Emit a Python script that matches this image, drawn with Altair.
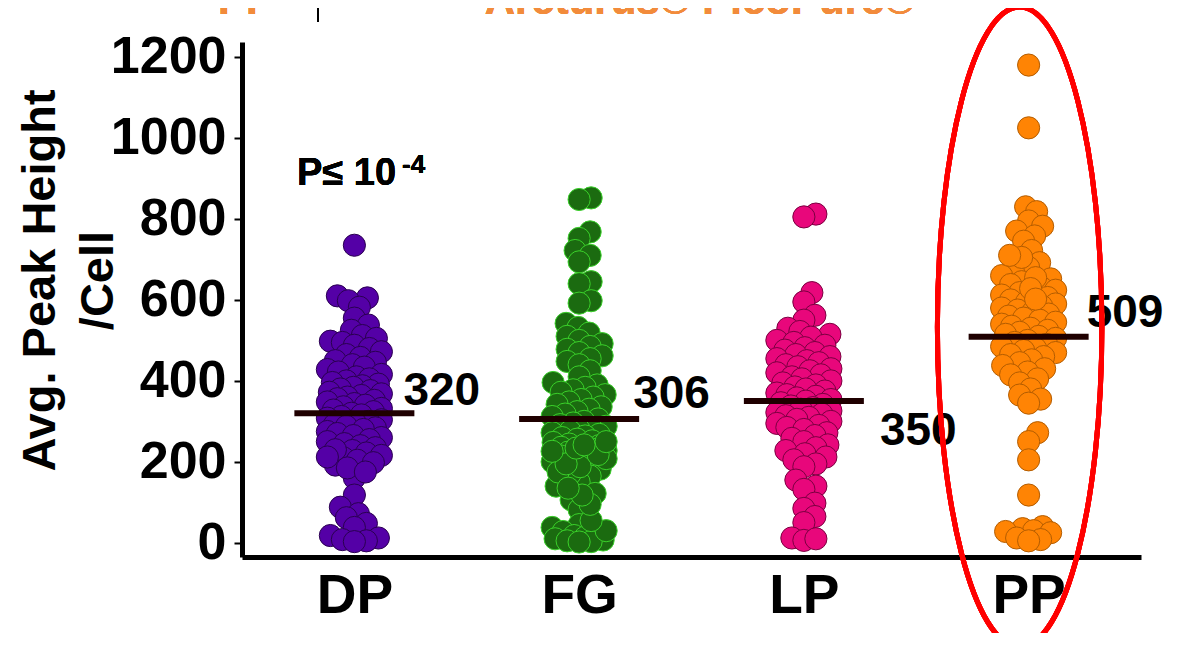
import math
import altair as alt
import pandas as pd

# ---------------- data ----------------
groups = ["DP", "FG", "LP", "PP"]

dp_values = [735, 610, 605, 598, 582, 555, 538, 525, 512, 505,
             498, 495, 488, 480, 472, 465, 458, 450, 446, 440,
             434, 428, 422, 416, 410, 405, 400, 396, 392, 388,
             384, 380, 376, 372, 368, 364, 360, 356, 352, 348,
             344, 340, 336, 332, 328, 324, 320, 316, 312, 308,
             304, 300, 296, 292, 288, 284, 280, 275, 270, 265,
             260, 255, 250, 245, 240, 235, 228, 222, 216, 210,
             204, 198, 192, 160, 118, 88, 72, 62, 48, 38,
             18, 12, 8, 5, 3, 230, 212, 185, 175]

fg_values = [852, 848, 768, 752, 722, 710, 694, 645, 640, 598, 592,
             542, 532, 518, 510, 500, 492, 485, 478, 470,
             462, 455, 448, 440, 425, 410, 396,
             390, 384, 378, 372, 366, 360, 354, 348, 342, 336,
             330, 324, 318, 312, 306, 300,
             296, 292, 288, 284, 280, 276, 272, 268, 264, 260,
             256, 252, 248, 244, 240, 236, 232, 228, 224, 220,
             215, 210, 205, 200, 182, 165, 150, 140, 122, 106, 82,
             45, 38, 28, 22, 18, 14, 10, 7, 5, 3, 2,
             170, 175, 188, 195, 208, 218, 226, 234, 242, 250,
             30, 55, 95, 118, 135]

lp_values = [812, 805, 618, 595, 562, 550,
             530, 522, 515, 508, 500, 495, 488, 482, 476, 470,
             465, 460, 455, 450, 445, 440, 435, 430, 425, 420,
             415, 410, 405, 400, 395, 390, 385, 380, 375, 370,
             366, 362, 358, 354, 350, 346, 342, 338, 334, 330,
             326, 322, 318, 314, 310, 305, 300, 295, 290, 285,
             280, 272, 265, 258, 250, 242, 235, 228, 220, 212,
             205, 195, 188, 155, 140, 132, 98, 85, 65, 50,
             12, 6, 10]

pp_values = [1180, 1025, 830, 818, 795, 782, 770, 758, 745, 722,
             692, 680, 668, 660, 652, 645, 638, 630, 624, 618,
             612, 606, 600, 595, 590, 585, 580, 575, 570, 565,
             560, 555, 550, 545, 540, 535, 530, 525, 520, 515,
             510, 505, 500, 495, 490, 485, 480, 475, 470, 465,
             460, 452, 445, 438, 430, 422, 415, 405, 395, 380,
             365, 355, 345, 272, 250, 205, 118,
             40, 35, 30, 28, 25, 12, 8, 5,
             705, 710, 655, 628, 602]

mean_values = [320, 306, 350, 509]
y_ticks = [0, 200, 400, 600, 800, 1000, 1200]

fill_colors = ["#5400a6", "#1b6b10", "#e8077b", "#ff8404"]
stroke_colors = ["#2a0050", "#3ad12a", "#7a0040", "#b35c00"]

# ---------------- layout helpers ----------------
W, H = 899, 515
Y_MIN, Y_MAX = -35, 1237
PX_Y = H / (Y_MAX - Y_MIN)
PX_X = W / 4.0
MIN_SEP = 12.0
MAX_OFF = 27


def swarm(vals):
    ys = [v * PX_Y for v in vals]
    placed = []
    offs = [0.0] * len(vals)
    order = sorted(range(len(vals)), key=lambda i: ys[i])
    cands = [0] + [s * k for k in range(1, MAX_OFF + 1) for s in (1, -1)]
    for i in order:
        best, bestd = 0, -1.0
        for c in cands:
            dmin = min((math.hypot(c - px, ys[i] - py) for px, py in placed), default=1e9)
            if dmin >= MIN_SEP:
                best = c
                break
            if dmin > bestd:
                bestd, best = dmin, c
        offs[i] = best
        placed.append((best, ys[i]))
    return offs


all_values = [dp_values, fg_values, lp_values, pp_values]
rows = []
for gi, (g, vals) in enumerate(zip(groups, all_values)):
    offs = swarm(vals)
    for v, o in zip(vals, offs):
        rows.append({"grp": g, "value": v, "x": gi + 0.5 + o / PX_X})
points_df = pd.DataFrame(rows)

HALF = 60 / PX_X
means_df = pd.DataFrame({
    "grp": groups,
    "value": mean_values,
    "x": [i + 0.5 - HALF for i in range(4)],
    "x2": [i + 0.5 + HALF for i in range(4)],
    "xc": [i + 0.5 for i in range(4)],
})

FONT = "Liberation Sans"

x_axis = alt.Axis(values=[0.5, 1.5, 2.5, 3.5],
                  labelExpr="['DP','FG','LP','PP'][floor(datum.value)]",
                  title="", grid=False, ticks=False, tickSize=0,
                  labelFontSize=55, labelFontWeight="bold", labelColor="black",
                  labelFont=FONT, labelPadding=12,
                  domainWidth=5, domainColor="black")
y_axis = alt.Axis(values=y_ticks, grid=False, format="d",
                  title=["Avg. Peak Height", "/Cell"],
                  titleFontSize=47, titleFontWeight="bold", titleFont=FONT,
                  titleColor="black", titleLineHeight=58,
                  titleX=-178, titleY=238, titleBaseline="bottom", titleAlign="center",
                  labelFontSize=52, labelFontWeight="bold", labelColor="black",
                  labelFont=FONT, labelPadding=8,
                  tickSize=8, tickWidth=2, tickColor="black",
                  domainWidth=5, domainColor="black")

xs = alt.Scale(domain=[0, 4], nice=False, zero=False)
ys_ = alt.Scale(domain=[Y_MIN, Y_MAX], nice=False, zero=False)

# white edges hide the faint frame of the plot area (the reference has none)
edge_top = alt.Chart(means_df).mark_rule(strokeWidth=3, color="white").encode(
    x=alt.value(4), x2=alt.value(W + 3), y=alt.value(0)
)
edge_right = alt.Chart(means_df).mark_rule(strokeWidth=3, color="white").encode(
    x=alt.value(W), y=alt.value(-2), y2=alt.value(H - 4)
)

points = alt.Chart(points_df).mark_circle(size=491, opacity=1, strokeWidth=1).encode(
    x=alt.X("x:Q", scale=xs, axis=x_axis),
    y=alt.Y("value:Q", scale=ys_, axis=y_axis),
    fill=alt.Fill("grp:N", scale=alt.Scale(domain=groups, range=fill_colors), legend=None),
    stroke=alt.Stroke("grp:N", scale=alt.Scale(domain=groups, range=stroke_colors), legend=None),
)

rules = alt.Chart(means_df).mark_rule(strokeWidth=6, color="#1f0000").encode(
    x=alt.X("x:Q", scale=xs), x2="x2:Q", y=alt.Y("value:Q", scale=ys_)
)

label_offsets = {"DP": (49, -8), "FG": (54, -11), "LP": (76, 44), "PP": (58, -10)}
labels = []
for g in groups:
    dx, dy = label_offsets[g]
    labels.append(
        alt.Chart(means_df).transform_filter(alt.datum.grp == g).mark_text(
            align="left", baseline="alphabetic", dx=dx, dy=dy,
            fontSize=46, fontWeight="bold", font=FONT, color="black"
        ).encode(x=alt.X("xc:Q", scale=xs), y=alt.Y("value:Q", scale=ys_), text="value:Q")
    )

p_text = alt.Chart(means_df).mark_text(
    align="left", baseline="alphabetic", fontSize=38, fontWeight="bold", font=FONT, color="black"
).encode(x=alt.value(55), y=alt.value(143), text=alt.value("P≤ 10"))
p_sup = alt.Chart(means_df).mark_text(
    align="left", baseline="alphabetic", fontSize=26, fontWeight="bold", font=FONT, color="black"
).encode(x=alt.value(160), y=alt.value(131), text=alt.value("-4"))

ellipse_path = "M -0.257 0 A 0.257 1 0 1 1 0.257 0 A 0.257 1 0 1 1 -0.257 0 Z"
ellipse = alt.Chart(means_df).mark_point(
    shape=ellipse_path, size=640 * 640, filled=False, stroke="#ff0000",
    strokeWidth=5, opacity=1
).encode(x=alt.datum(3.46), y=alt.datum(533))

top_pp = alt.Chart(means_df).mark_text(
    align="center", baseline="alphabetic", fontSize=42, fontWeight="bold", font=FONT, color="#f28b3b"
).encode(x=alt.value(4), y=alt.value(-28), text=alt.value("PP"))
top_arc = alt.Chart(means_df).mark_text(
    align="center", baseline="alphabetic", fontSize=42, fontWeight="bold", font=FONT, color="#f28b3b"
).encode(x=alt.value(458), y=alt.value(-28), text=alt.value("Arcturus® PicoPure®"))
top_bar = alt.Chart(means_df).mark_rule(strokeWidth=2, color="black").encode(
    x=alt.value(76), y=alt.value(-40), y2=alt.value(-20)
)

chart = alt.layer(edge_top, edge_right, points, rules, *labels, p_text, p_sup, ellipse,
                  top_pp, top_arc, top_bar).properties(
    width=W, height=H,
    background="white",
    autosize=alt.AutoSizeParams(type="none"),
    padding={"left": 234, "top": 34, "right": 32, "bottom": 76},
).configure_view(stroke=None).configure_axis(grid=False)

chart.save("out.html", embed_options={"renderer": "svg", "actions": False})
